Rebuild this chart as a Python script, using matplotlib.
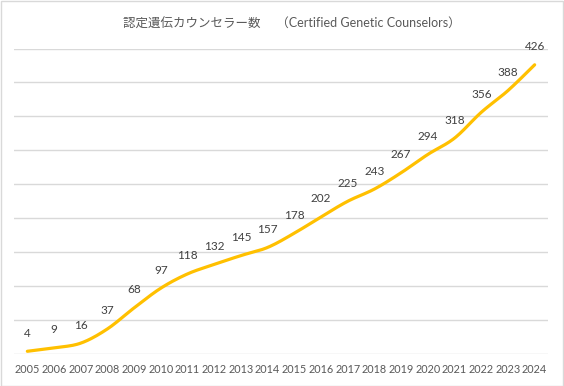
import numpy as np
import matplotlib
matplotlib.use("Agg")
import matplotlib.pyplot as plt
from matplotlib.patches import Rectangle

plt.rcParams['font.family'] = ['Lato', 'Noto Sans CJK JP', 'DejaVu Sans']

years = [str(y) for y in range(2005, 2025)]
counts = [4, 9, 16, 37, 68, 97, 118, 132, 145, 157, 178, 202, 225, 243, 267, 294, 318, 356, 388, 426]
title = "認定遺伝カウンセラー数　 （Certified Genetic Counselors）"

def smooth(x, y, n=20):
    x = np.asarray(x, float); y = np.asarray(y, float)
    px = np.concatenate([[x[0]], x, [x[-1]]])
    py = np.concatenate([[y[0]], y, [y[-1]]])
    xs, ys = [], []
    t = np.linspace(0, 1, n, endpoint=False)
    for i in range(1, len(px) - 2):
        p0, p1, p2, p3 = (np.array([px[j], py[j]]) for j in (i - 1, i, i + 1, i + 2))
        c1 = p1 + (p2 - p0) / 6
        c2 = p2 - (p3 - p1) / 6
        b = ((1 - t) ** 3)[:, None] * p1 + (3 * (1 - t) ** 2 * t)[:, None] * c1 + \
            (3 * (1 - t) * t ** 2)[:, None] * c2 + (t ** 3)[:, None] * p2
        xs.extend(b[:, 0]); ys.extend(b[:, 1])
    xs.append(x[-1]); ys.append(y[-1])
    return np.array(xs), np.array(ys)

fig = plt.figure(figsize=(5.64, 3.86), dpi=100)
ax = fig.add_axes([14 / 564, 1 - 354 / 386, 534 / 564, 305.5 / 386])

x = np.arange(len(years))
sx, sy = smooth(x, counts)
ax.plot(sx, sy, color='#FFC000', lw=2.3, solid_capstyle='round', zorder=3)

for xi, v in zip(x, counts):
    ax.annotate(str(v), (xi, v), xytext=(0, 9), textcoords='offset points',
                ha='center', va='bottom', fontsize=8.5, color='#404040')

ax.set_xlim(-0.5, len(years) - 0.5)
ax.set_ylim(0, 450)
ax.set_yticks(np.arange(0, 451, 50))
ax.set_yticklabels([])
ax.tick_params(axis='y', length=0)
ax.grid(axis='y', color='#d9d9d9', lw=1)
ax.set_axisbelow(True)
ax.set_xticks(x)
ax.set_xticklabels(years, fontsize=7.8, color='#595959')
ax.tick_params(axis='x', length=0, pad=7)
for s in ax.spines.values():
    s.set_visible(False)

fig.text(292 / 564, 1 - 24 / 386, title, ha='center', va='center', fontsize=9,
         color='#595959', family=['Lato', 'Noto Sans CJK JP', 'DejaVu Sans'])

fig.patches.append(Rectangle((0.5 / 564, 0.5 / 386), 562.5 / 564, 384.5 / 386,
                             transform=fig.transFigure, fill=False, ec='#d9d9d9', lw=1))

fig.savefig('out.png', dpi=100)
